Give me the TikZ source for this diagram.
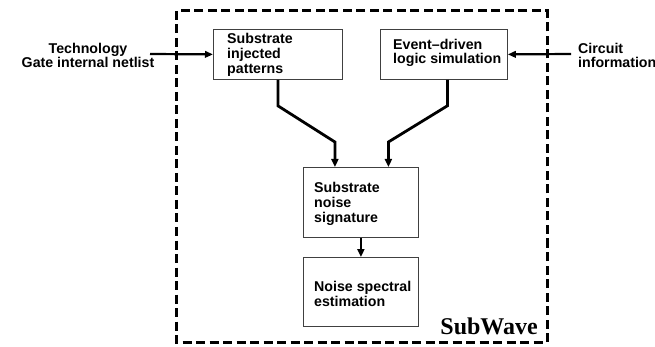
\documentclass[tikz,border=0pt]{standalone}
\usepackage{fontspec}
\setmainfont{Liberation Sans}
\newfontfamily\titlefont{Liberation Serif}
\usetikzlibrary{arrows.meta}
\begin{document}
\begin{tikzpicture}[x=1pt,y=-1pt,
  label/.style={font=\bfseries\fontsize{14.2}{14.8}\selectfont, inner sep=0pt},
  block/.style={draw=black!75, line width=0.8pt, anchor=north west, inner sep=0pt},
  blocktext/.style={font=\bfseries\fontsize{14.2}{14.6}\selectfont, align=left,
                    anchor=west, inner sep=0pt},
  flow/.style={line width=2.8pt, -{Triangle[length=8pt,width=7pt]}},
  feed/.style={line width=2.2pt, -{Triangle[length=8pt,width=6.5pt]}},
  frame/.style={line width=3pt, dash pattern=on 9pt off 4.5pt}]
\useasboundingbox (0,0) rectangle (655,347);

% dashed SubWave frame
\draw[frame] (176,11) rectangle (547,342);
\node[font=\titlefont\bfseries\fontsize{24}{24}\selectfont, anchor=south east, inner sep=0pt]
  (title) at (538,335) {SubWave};

% blocks
\node[block, minimum width=129pt, minimum height=50pt] (b1) at (213,29) {};
\node[block, minimum width=127pt, minimum height=50pt] (b2) at (380,29) {};
\node[block, minimum width=115pt, minimum height=70pt] (b3) at (303,167) {};
\node[block, minimum width=115pt, minimum height=69pt] (b4) at (303,257) {};

\node[blocktext] (b1t) at ([xshift=14pt,yshift=-0.5pt]b1.west) {Substrate\\injected\\patterns};
\node[blocktext] (b2t) at ([xshift=13pt,yshift=1.5pt]b2.west) {Event--driven\\logic simulation};
\node[blocktext] (b3t) at ([xshift=11pt,yshift=-1.5pt]b3.west) {Substrate\\noise\\signature};
\node[blocktext] (b4t) at ([xshift=11pt,yshift=-2pt]b4.west) {Noise spectral\\estimation};

% external inputs
\node[label, align=center] (tech) at (88,55.5) {Technology\\Gate internal netlist};
\node[label, align=left, anchor=west] (circ) at (578,55.5) {Circuit\\information};
\coordinate (tin) at (150,54);
\coordinate (cin) at (571,54);
\draw[feed] (tin) -- (b1.west);
\draw[feed] (cin) -- (b2.east);

% data flow
\draw[flow] (b1.south) -- ++(0,26) -- ([xshift=-26pt,yshift=25pt]b3.north)
  -- ([xshift=-26pt]b3.north);
\draw[flow] ([xshift=3.5pt]b2.south) -- ++(0,26) -- ([xshift=27.5pt,yshift=25pt]b3.north)
  -- ([xshift=27.5pt]b3.north);
\draw[flow] (b3.south) -- (b4.north);
\end{tikzpicture}
\end{document}
